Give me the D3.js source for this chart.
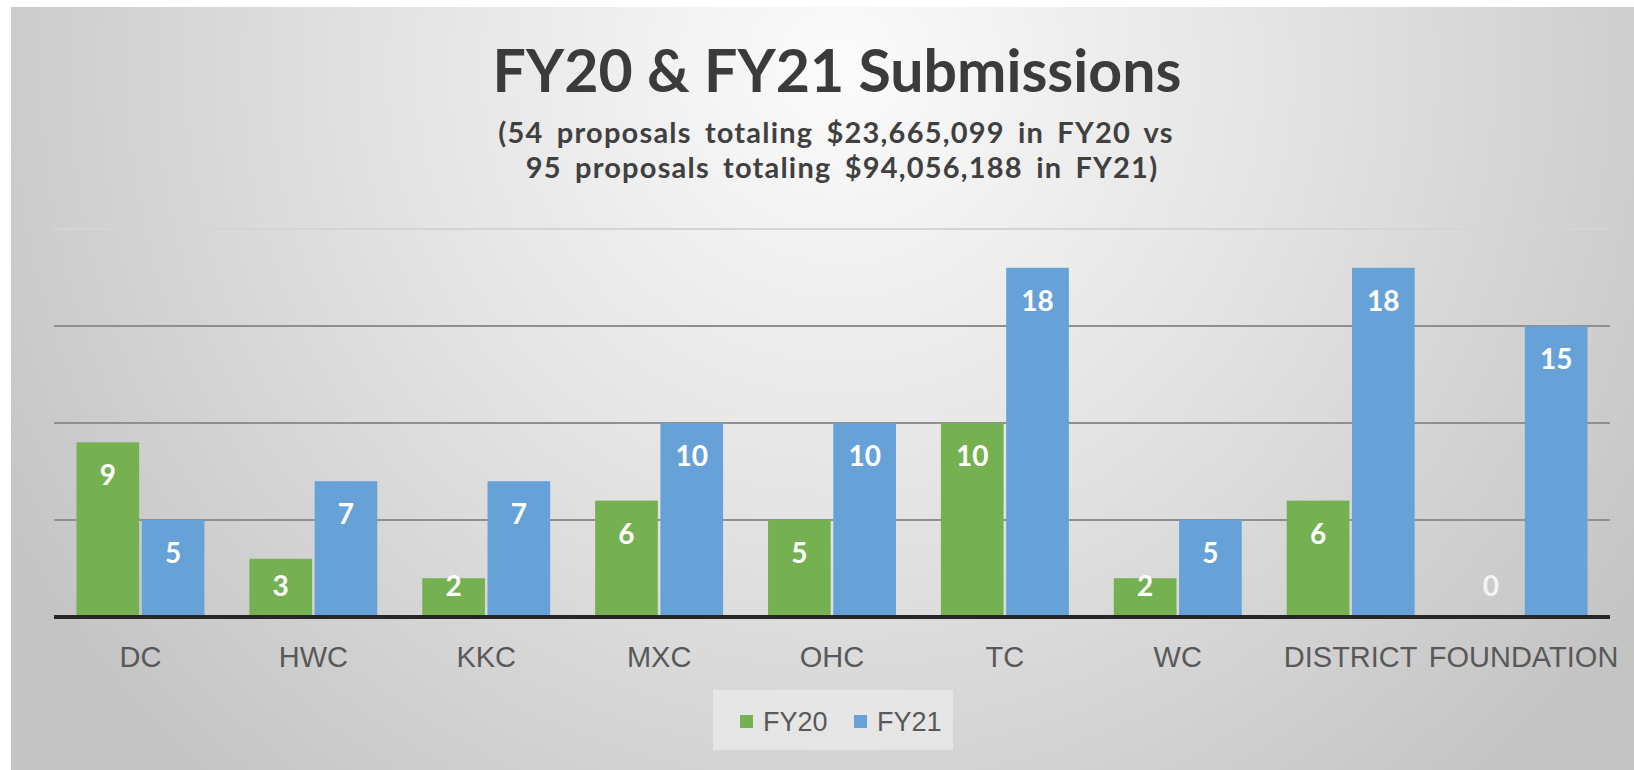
<!DOCTYPE html>
<html>
<head>
<meta charset="utf-8">
<script src="https://cdn.jsdelivr.net/npm/d3@7"></script>
<style>
  html, body { margin: 0; padding: 0; background: #fff; }
  svg { display: block; }
</style>
</head>
<body>
<svg id="chart" width="1634" height="770"></svg>
<script>
// chart data
var categories = ["DC", "HWC", "KKC", "MXC", "OHC", "TC", "WC", "DISTRICT", "FOUNDATION"];
var seriesNames = ["FY20", "FY21"];
var fy20 = [9, 3, 2, 6, 5, 10, 2, 6, 0];
var fy21 = [5, 7, 7, 10, 10, 18, 5, 18, 15];
var yTicks = [0, 5, 10, 15, 20];
var titleText = "FY20 & FY21 Submissions";
var subtitleLines = [
  "(54 proposals totaling $23,665,099 in FY20 vs",
  "95 proposals totaling $94,056,188 in FY21)"
];

var colors = { FY20: "#75b151", FY21: "#66a2d8" };

var width = 1634, height = 770;
var plot = { left: 54, right: 1610, top: 229, bottom: 617 };

var svg = d3.select("#chart");

// background: soft radial grey like the office chart style
var defs = svg.append("defs");
var grad = defs.append("radialGradient")
    .attr("id", "bg")
    .attr("gradientUnits", "userSpaceOnUse")
    .attr("cx", 840).attr("cy", 70).attr("r", 960);
grad.append("stop").attr("offset", 0).attr("stop-color", "#fbfbfb");
grad.append("stop").attr("offset", 0.45).attr("stop-color", "#e4e4e4");
grad.append("stop").attr("offset", 1).attr("stop-color", "#c4c4c4");

svg.append("rect")
    .attr("x", 11).attr("y", 7)
    .attr("width", width - 11).attr("height", height - 7)
    .attr("fill", "url(#bg)");

// scales
var x0 = d3.scaleBand()
    .domain(categories)
    .range([plot.left, plot.right])
    .paddingInner(0.26)
    .paddingOuter(0.13);

var x1 = d3.scaleBand()
    .domain(seriesNames)
    .range([0, x0.bandwidth()])
    .paddingInner(0.04);

var y = d3.scaleLinear()
    .domain([0, 20])
    .range([plot.bottom, plot.top]);

// gridlines
svg.append("g").selectAll("line")
    .data(yTicks.filter(function(d) { return d > 0; }))
  .enter().append("line")
    .attr("x1", plot.left)
    .attr("x2", plot.right)
    .attr("y1", function(d) { return y(d); })
    .attr("y2", function(d) { return y(d); })
    .attr("stroke", function(d) { return d === 20 ? "#d4d4d4" : "#8f8f8f"; })
    .attr("stroke-width", 2);

// bars
var rows = categories.map(function(c, i) {
  return { cat: c, values: [{ key: "FY20", val: fy20[i] }, { key: "FY21", val: fy21[i] }] };
});

var groups = svg.append("g").selectAll("g")
    .data(rows)
  .enter().append("g")
    .attr("transform", function(d) { return "translate(" + x0(d.cat) + ",0)"; });

groups.selectAll("rect")
    .data(function(d) { return d.values; })
  .enter().append("rect")
    .attr("x", function(d) { return x1(d.key); })
    .attr("width", x1.bandwidth())
    .attr("y", function(d) { return y(d.val); })
    .attr("height", function(d) { return y(0) - y(d.val); })
    .attr("fill", function(d) { return colors[d.key]; });

// value labels, inside end, pushed up for short bars
groups.selectAll("text")
    .data(function(d) { return d.values; })
  .enter().append("text")
    .attr("x", function(d) { return x1(d.key) + x1.bandwidth() / 2; })
    .attr("y", function(d) { return Math.min(y(d.val) + 33, y(0) - 31); })
    .attr("dy", "0.36em")
    .attr("text-anchor", "middle")
    .attr("font-family", "Lato, 'Open Sans', sans-serif")
    .attr("font-weight", "bold")
    .attr("font-size", 28)
    .attr("fill", function(d) { return d.val === 0 ? "#f4f4f4" : "#ffffff"; })
    .text(function(d) { return d.val; });

// x axis
var xAxis = svg.append("g")
    .attr("transform", "translate(0," + y(0) + ")")
    .call(d3.axisBottom(x0).tickSize(0));

xAxis.select(".domain")
    .attr("d", "M" + plot.left + ",0H" + plot.right)
    .attr("stroke", "#262626")
    .attr("stroke-width", 4);

xAxis.selectAll("text")
    .attr("font-family", "'Liberation Sans', Arial, sans-serif")
    .attr("font-size", 29)
    .attr("fill", "#595959")
    .attr("dy", "0.36em")
    .attr("y", 40);

// title
svg.append("text")
    .attr("x", 837).attr("y", 92)
    .attr("text-anchor", "middle")
    .attr("font-family", "Lato, 'Open Sans', sans-serif")
    .attr("font-weight", "bold")
    .attr("font-size", 59)
    .attr("fill", "#3b3b3b")
    .text(titleText);

svg.append("g").selectAll("text")
    .data(subtitleLines)
  .enter().append("text")
    .attr("x", function(d, i) { return i === 0 ? 836 : 842; })
    .attr("y", function(d, i) { return 143 + i * 35; })
    .attr("text-anchor", "middle")
    .attr("font-family", "Lato, 'Open Sans', sans-serif")
    .attr("font-weight", "bold")
    .attr("font-size", 29)
    .attr("letter-spacing", 1.2)
    .attr("word-spacing", 5)
    .attr("fill", "#404040")
    .text(function(d) { return d; });

// legend
var legend = svg.append("g");
legend.append("rect")
    .attr("x", 713).attr("y", 690)
    .attr("width", 240).attr("height", 60)
    .attr("fill", "#f2f2f2")
    .attr("fill-opacity", 0.55);

var legendX = [740, 854];
var items = legend.selectAll("g")
    .data(seriesNames)
  .enter().append("g")
    .attr("transform", function(d, i) { return "translate(" + legendX[i] + ",721)"; });

items.append("rect")
    .attr("x", 0).attr("y", -6)
    .attr("width", 13).attr("height", 13)
    .attr("fill", function(d) { return colors[d]; });

items.append("text")
    .attr("x", 23)
    .attr("dy", "0.36em")
    .attr("font-family", "'Liberation Sans', Arial, sans-serif")
    .attr("font-size", 27)
    .attr("fill", "#595959")
    .text(function(d) { return d; });
</script>
</body>
</html>
